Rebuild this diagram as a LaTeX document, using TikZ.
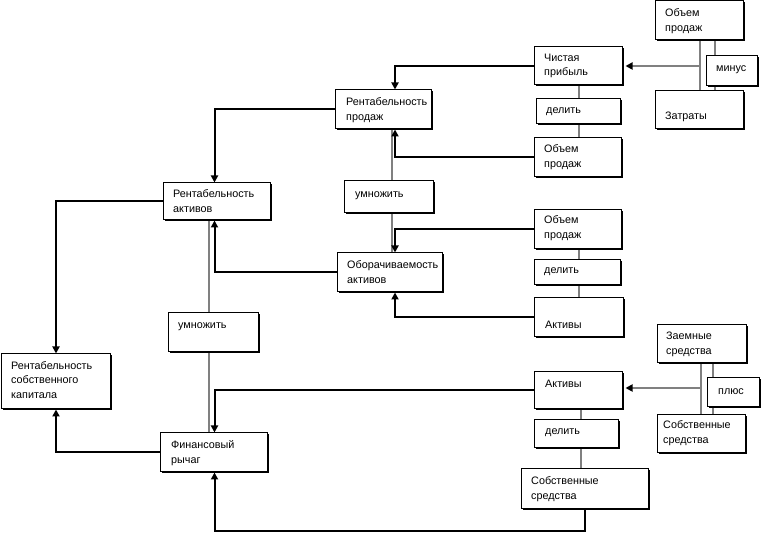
\documentclass[tikz,border=0pt]{standalone}
\usepackage{fontspec}
\setmainfont{Liberation Sans}
\usetikzlibrary{arrows.meta,fit,shadows,backgrounds}
\begin{document}
\begin{tikzpicture}[x=1pt,y=-1pt,
  box/.style={draw=black, line width=1pt, fill=white, inner sep=0pt,
    drop shadow={shadow xshift=1.5pt, shadow yshift=-1.5pt, fill=black, opacity=1}},
  txt/.style={anchor=west, inner sep=0pt, align=left, font=\fontsize{10.8}{14.8}\selectfont},
  conn/.style={line width=2pt, -{Triangle[length=7pt,width=7pt]}},
  gline/.style={line width=1.8pt, draw=gray},
  garrow/.style={gline, -{Triangle[length=7pt,width=7pt,color=black,fill=black]}, shorten >=3pt}
]
\useasboundingbox (0,0) rectangle (761,534);

% boxes
\node[box, fit={(655,1)(743,40)}] (op1) {};
\node[box, fit={(706,56)(757,86)}] (minus) {};
\node[box, fit={(655,91)(743,129)}] (zatr) {};
\node[box, fit={(534,47)(622,85)}] (chp) {};
\node[box, fit={(536,99)(620,124)}] (del1) {};
\node[box, fit={(534,138)(621,177)}] (op2) {};
\node[box, fit={(335,90)(431,129)}] (rp) {};
\node[box, fit={(344,181)(433,213)}] (umn1) {};
\node[box, fit={(163,183)(270,220)}] (ra) {};
\node[box, fit={(534,210)(621,249)}] (op3) {};
\node[box, fit={(534,260)(620,285)}] (del2) {};
\node[box, fit={(337,253)(442,292)}] (oa) {};
\node[box, fit={(534,298)(623,337)}] (akt1) {};
\node[box, fit={(168,313)(258,352)}] (umn2) {};
\node[box, fit={(1,354)(110,409)}] (rsk) {};
\node[box, fit={(657,325)(746,363)}] (zs) {};
\node[box, fit={(707,378)(759,407)}] (plus) {};
\node[box, fit={(534,372)(622,409)}] (akt2) {};
\node[box, fit={(657,415)(745,453)}] (ss1) {};
\node[box, fit={(534,420)(618,448)}] (del3) {};
\node[box, fit={(160,433)(267,472)}] (fr) {};
\node[box, fit={(521,469)(648,509)}] (ss2) {};

% texts
\node[txt] (op1t) at (665,21) {Объем\\продаж};
\node[txt] (minust) at (716,70) {минус};
\node[txt] (zatrt) at (665,117) {Затраты};
\node[txt] (chpt) at (544,66) {Чистая\\прибыль};
\node[txt] (del1t) at (546,112) {делить};
\node[txt] (op2t) at (544,157) {Объем\\продаж};
\node[txt] (rpt) at (346,110) {Рентабельность\\продаж};
\node[txt] (umn1t) at (355,196) {умножить};
\node[txt] (rat) at (173,201) {Рентабельность\\активов};
\node[txt] (op3t) at (544,228) {Объем\\продаж};
\node[txt] (del2t) at (544,272) {делить};
\node[txt] (oat) at (347,272) {Оборачиваемость\\активов};
\node[txt] (akt1t) at (545,325) {Активы};
\node[txt] (umn2t) at (178,327) {умножить};
\node[txt] (rskt) at (11,380) {Рентабельность\\собственного\\капитала};
\node[txt] (zst) at (666,344) {Заемные\\средства};
\node[txt] (plust) at (718,392) {плюс};
\node[txt] (akt2t) at (545,384) {Активы};
\node[txt] (ss1t) at (663,433) {Собственные\\средства};
\node[txt] (del3t) at (545,433) {делить};
\node[txt] (frt) at (171,453) {Финансовый\\рычаг};
\node[txt] (ss2t) at (531,489) {Собственные\\средства};

% helper coordinates
\coordinate (colA) at (395,0);
\coordinate (colAg) at (392,0);
\coordinate (colB) at (214.5,0);
\coordinate (colBg) at (209,0);
\coordinate (colC) at (56,0);
\coordinate (g1) at (579,0);
\coordinate (g2) at (581,0);
\coordinate (bot) at (214.5,531);
\coordinate (j1) at (700,66);
\coordinate (k1) at (715,0);
\coordinate (j2) at (701,388);
\coordinate (k2) at (713,0);

\begin{scope}[on background layer]
% gray lines
\draw[gline] (colAg |- rp.south) -- (colAg |- oa.north);
\draw[gline] (colBg |- ra.south) -- (colBg |- fr.north);
\draw[gline] (g1 |- chp.south) -- (g1 |- op2.north);
\draw[gline] (g1 |- op3.south) -- (g1 |- akt1.north);
\draw[gline] (g2 |- akt2.south) -- (g2 |- ss2.north);
\draw[gline] (op1.south -| j1) -- (zatr.north -| j1);
\draw[gline] (op1.south -| k1) -- (zatr.north -| k1);
\draw[garrow] (j1) -- (chp.east |- j1);
\draw[gline] (zs.south -| j2) -- (ss1.north -| j2);
\draw[gline] (zs.south -| k2) -- (ss1.north -| k2);
\draw[garrow] (j2) -- (akt2.east |- j2);
% black connectors
\draw[conn] (chp.west) -| (colA |- rp.north);
\draw[conn] (op2.west) -| (colA |- rp.south);
\draw[conn] (op3.west) -| (colA |- oa.north);
\draw[conn] (akt1.west) -| (colA |- oa.south);
\draw[conn] (rp.west) -| (colB |- ra.north);
\draw[conn] (oa.west) -| (colB |- ra.south);
\draw[conn] (akt2.west) -| (colB |- fr.north);
\draw[conn] (ss2.south) |- (bot) -- (colB |- fr.south);
\draw[conn] (ra.west) -| (colC |- rsk.north);
\draw[conn] (fr.west) -| (colC |- rsk.south);
\end{scope}
\end{tikzpicture}
\end{document}
